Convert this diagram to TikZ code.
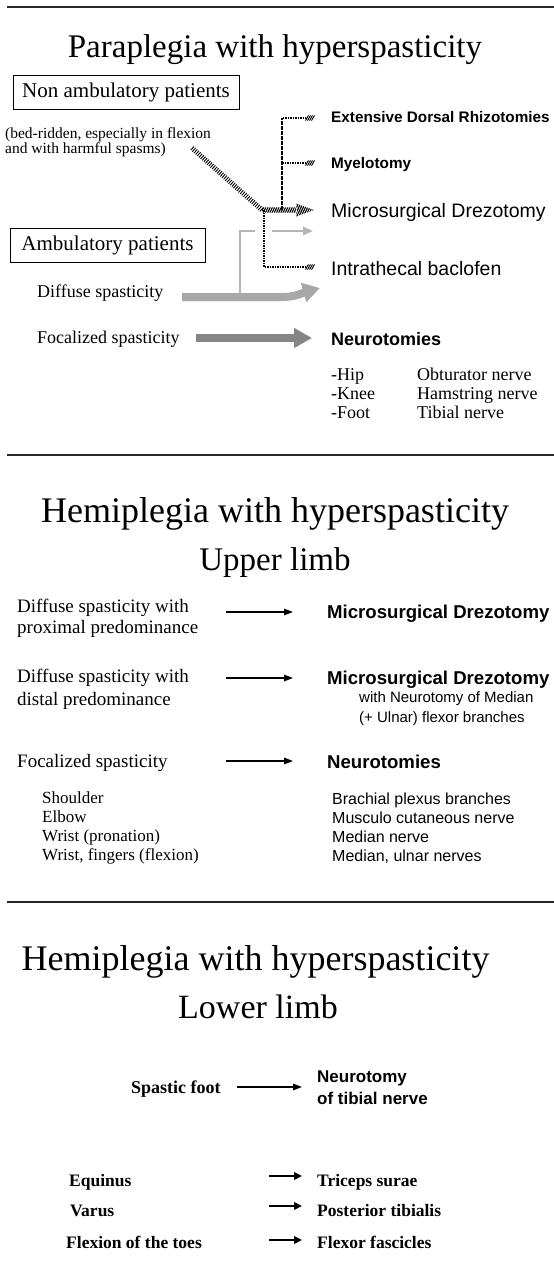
\documentclass[tikz,border=0pt]{standalone}
\usepackage{fontspec}
\setmainfont{Liberation Serif}
\setsansfont{Liberation Sans}
\usetikzlibrary{arrows.meta,calc}
\newcommand\fsz[1]{\fontsize{#1}{#1}\selectfont}
\newcommand\htip[2]{\foreach \k in {0,1,2,3} {\draw[line width=0.9pt] ({#1-7.5+2*\k},{#2+2.6}) -- ({#1-4.5+2*\k},{#2-2.6});}}
\definecolor{lgray}{HTML}{A8A8A8}
\definecolor{mgray}{HTML}{858585}
\definecolor{bgray}{HTML}{B4B4B4}
\begin{document}
\begin{tikzpicture}[x=1pt,y=-1pt,
  lbl/.style={inner sep=0pt, anchor=base west},
  ser/.style={lbl, font=\fsz{#1}},
  serb/.style={lbl, font=\bfseries\fsz{#1}},
  sansb/.style={lbl, font=\sffamily\bfseries\fsz{#1}},
  sansr/.style={lbl, font=\sffamily\fsz{#1}},
  ttl/.style={inner sep=0pt, anchor=base, font=\fsz{#1}},
  rulel/.style={line width=1.8pt, black!85},
  boxed/.style={draw, line width=0.9pt, inner sep=0pt, font=\fsz{21}},
  thinarrow/.style={line width=1.4pt, -{Triangle[length=9pt,width=6.5pt]}},
  shortarrow/.style={line width=2.6pt, -{Triangle[length=8pt,width=7.5pt]}},
  hatchline/.style={line width=5pt, dash pattern=on 0.9pt off 1.3pt},
  dotline/.style={line width=1.5pt, dash pattern=on 1.8pt off 0.7pt},
]
\useasboundingbox (0,0) rectangle (554,1272);
\fill[white] (0,0) rectangle (554,1272);

% rules
\draw[rulel] (7,7) -- (554,7);
\draw[rulel] (7,455) -- (554,455);
\draw[rulel] (7,902) -- (554,902);

% ---------------- Section 1
\node[ttl=33] (t1) at (275,57) {Paraplegia with hyperspasticity};
\node[boxed, minimum width=226pt, minimum height=34pt] (nonamb) at (126,92) {Non ambulatory patients};
\node[ser=15.5] (bed1) at (5,138) {(bed-ridden, especially in flexion};
\node[ser=15.5] (bed2) at (5,153) {and with harmful spasms)};
\node[sansb=15.3] (edr) at (331,122) {Extensive Dorsal Rhizotomies};
\node[sansb=15.3] (mye) at (331,168) {Myelotomy};
\node[sansr=19.5] (mdz) at (331,217) {Microsurgical Drezotomy};
\node[sansr=19.5] (itb) at (331,275) {Intrathecal baclofen};
\node[boxed, minimum width=195pt, minimum height=34pt] (amb) at (107.5,245) {Ambulatory patients};
\node[ser=18] (dif) at (37,297) {Diffuse spasticity};
\node[ser=18] (foc) at (37,343) {Focalized spasticity};
\node[sansb=18] (neu) at (331,345) {Neurotomies};
\node[ser=18] (hip) at (331,380) {-Hip};
\node[ser=18] (knee) at (331,399) {-Knee};
\node[ser=18] (foot) at (331,418) {-Foot};
\node[ser=18] (obt) at (417,380) {Obturator nerve};
\node[ser=18] (ham) at (417,399) {Hamstring nerve};
\node[ser=18] (tib) at (417,418) {Tibial nerve};

% connector coordinates
\coordinate (hA) at (192,148);
\coordinate (hB) at (262,210);
\coordinate (vT) at (282,118);
\coordinate (vM) at (282,163);
\coordinate (vB) at (282,210);
\coordinate (eT) at (306,118);
\coordinate (eM) at (306,163);
\coordinate (lT) at (264,210);
\coordinate (lB) at (264,267);
\coordinate (eI) at (306,267);

% hatched main path
\draw[hatchline] (hA) -- (hB);
\begin{scope}
  \clip (262,207.4) rectangle (297,212.6) (296,203.5) -- (314,210) -- (296,216.5) -- cycle;
  \foreach \i in {252,254.2,...,318} \draw[line width=1.1pt] (\i,218) -- (\i+8,201);
\end{scope}
% dotted branches
\draw[dotline] (vB) -- (vT) -- (eT);
\draw[dotline] (vM) -- (eM);
\draw[dotline] (lT) -- (lB) -- (eI);
\htip{313}{118}
\htip{313}{163}
\htip{313}{267}

% gray arrows
\coordinate (dS) at (182,297);
\coordinate (dK) at (282,297);
\coordinate (dE) at (320,288);
\coordinate (gB) at (240,297);
\coordinate (gC) at (240,231);
\coordinate (gD) at (255,231);
\coordinate (gE) at (272,231);
\coordinate (gF) at (313,231);
\draw[bgray, line width=2.6pt] (gB) -- (gC) -- (gD);
\draw[bgray, line width=2.6pt, -{Triangle[length=10pt,width=8pt]}] (gE) -- (gF);
\draw[lgray, line width=8pt, -{Triangle[length=17pt,width=19pt]}] (dS) -- (dK) .. controls (296,297) and (302,293) .. (dE);
\coordinate (fS) at (196,338);
\coordinate (fE) at (312,338);
\draw[mgray, line width=8pt, -{Triangle[length=18pt,width=19pt]}] (fS) -- (fE);

% ---------------- Section 2
\node[ttl=36] (t2) at (275,522) {Hemiplegia with hyperspasticity};
\node[ttl=33] (t2b) at (275,570) {Upper limb};
\node[ser=19] (p1) at (17,612) {Diffuse spasticity with};
\node[ser=19] (p2) at (17,633) {proximal predominance};
\node[sansb=18.6] (r1) at (327,618) {Microsurgical Drezotomy};
\coordinate (a1s) at (226,612); \coordinate (a1e) at (293,612);
\draw[thinarrow] (a1s) -- (a1e);
\node[ser=19] (q1) at (17,682) {Diffuse spasticity with};
\node[ser=19] (q2) at (17,705) {distal predominance};
\node[sansb=18.6] (r2) at (327,684) {Microsurgical Drezotomy};
\node[sansr=15] (r2b) at (359,702) {with Neurotomy of Median};
\node[sansr=15] (r2c) at (359,722) {(+ Ulnar) flexor branches};
\coordinate (a2s) at (226,678); \coordinate (a2e) at (293,678);
\draw[thinarrow] (a2s) -- (a2e);
\node[ser=19] (fz) at (17,767) {Focalized spasticity};
\node[sansb=18.6] (r3) at (327,768) {Neurotomies};
\coordinate (a3s) at (226,761); \coordinate (a3e) at (293,761);
\draw[thinarrow] (a3s) -- (a3e);
\node[ser=17] (s1) at (42,803) {Shoulder};
\node[ser=17] (s2) at (42,822) {Elbow};
\node[ser=17] (s3) at (42,841) {Wrist (pronation)};
\node[ser=17] (s4) at (42,860) {Wrist, fingers (flexion)};
\node[sansr=16] (n1) at (332,804) {Brachial plexus branches};
\node[sansr=16] (n2) at (332,823) {Musculo cutaneous nerve};
\node[sansr=16] (n3) at (332,842) {Median nerve};
\node[sansr=16] (n4) at (332,861) {Median, ulnar nerves};

% ---------------- Section 3
\node[ttl=36] (t3) at (255.5,970) {Hemiplegia with hyperspasticity};
\node[ttl=34] (t3b) at (258,1018) {Lower limb};
\node[serb=18] (sf) at (131,1093) {Spastic foot};
\node[sansb=17] (nt1) at (317,1082) {Neurotomy};
\node[sansb=17] (nt2) at (317,1104) {of tibial nerve};
\coordinate (b0s) at (237,1087); \coordinate (b0e) at (302,1087);
\draw[thinarrow] (b0s) -- (b0e);
\node[serb=17.5] (e1) at (69,1186) {Equinus};
\node[serb=17.5] (e2) at (70,1216) {Varus};
\node[serb=17.5] (e3) at (66,1248) {Flexion of the toes};
\node[serb=17.5] (m1) at (317,1186) {Triceps surae};
\node[serb=17.5] (m2) at (317,1216) {Posterior tibialis};
\node[serb=17.5] (m3) at (317,1248) {Flexor fascicles};
\coordinate (c1s) at (269,1176); \coordinate (c1e) at (302,1176);
\coordinate (c2s) at (269,1206); \coordinate (c2e) at (302,1206);
\coordinate (c3s) at (269,1240); \coordinate (c3e) at (302,1240);
\draw[shortarrow] (c1s) -- (c1e);
\draw[shortarrow] (c2s) -- (c2e);
\draw[shortarrow] (c3s) -- (c3e);
\end{tikzpicture}
\end{document}
